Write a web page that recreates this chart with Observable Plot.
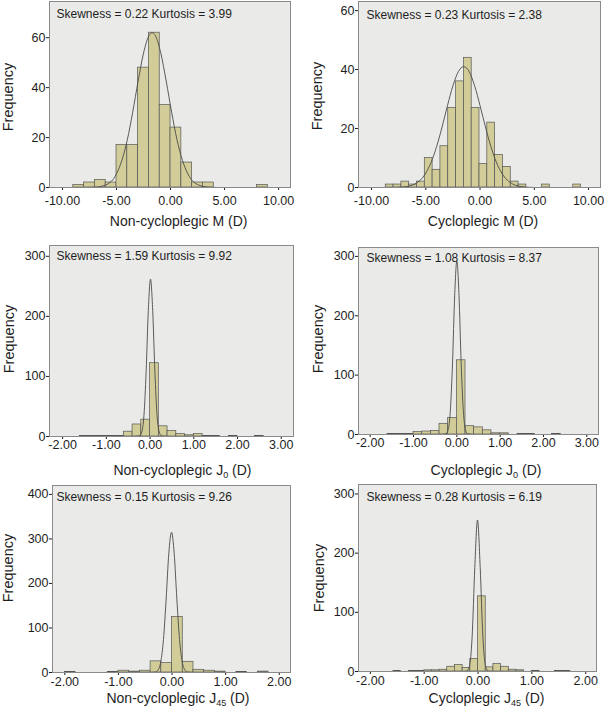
<!DOCTYPE html>
<html>
<head>
<meta charset="utf-8">
<script src="https://cdn.jsdelivr.net/npm/d3@7"></script>
<script src="https://cdn.jsdelivr.net/npm/@observablehq/plot@0.6"></script>
<style>
  html, body { margin:0; padding:0; background:#fff; }
  #chart { position:relative; width:606px; height:714px; overflow:hidden; font-family:"Liberation Sans", Arial, Helvetica, sans-serif; color:#1e1e1e; }
  .panel { position:absolute; }
  .panel svg { display:block; overflow:visible; }
  .xlab { position:absolute; width:240px; text-align:center; font-size:14px; line-height:16px; white-space:nowrap; }
  .xlab sub { font-size:9px; vertical-align:-3px; line-height:0; }
  .ylab { position:absolute; width:120px; text-align:center; font-size:14.5px; line-height:16px; transform:rotate(-90deg); white-space:nowrap; }
</style>
</head>
<body>
<div id="chart"></div>
<script>
// ---------- data ----------
// Non-cycloplegic M (bin width 1.00)
const nonM_start = [-9, -8, -7, -6, -5, -4, -3, -2, -1, 0, 1, 2, 3, 8];
const nonM_count = [1, 2, 3, 2, 17, 17, 48, 62, 33, 24, 10, 2, 2, 1];
const nonM_curveX = [-8, -7, -6, -5, -4.5, -4, -3.5, -3, -2.5, -2, -1.7, -1.4, -0.9, -0.4, 0.1, 0.6, 1.1, 1.6, 2.6, 3.6, 4.6];
const nonM_curveY = [0, 0.1, 1.0, 5.5, 10.9, 19.1, 30.2, 42.6, 53.8, 60.8, 62, 60.8, 53.8, 42.6, 30.2, 19.1, 10.9, 5.5, 1.0, 0.1, 0];

// Cycloplegic M (bin width 0.72)
const cycM_start = [-8.69, -7.97, -7.25, -6.53, -5.81, -5.09, -4.37, -3.65, -2.93, -2.21, -1.49, -0.77, -0.05, 0.67, 1.39, 2.11, 2.83, 3.55, 5.71, 8.59];
const cycM_count = [1, 1, 2, 1, 2, 10, 6, 14, 27, 36, 44, 27, 8, 22, 11, 7, 2, 1, 1, 1];
const cycM_curveX = [-8, -7, -6, -5, -4.5, -4, -3.5, -3, -2.5, -2, -1.5, -1, -0.5, 0, 0.5, 1, 1.5, 2, 3, 4, 5];
const cycM_curveY = [0, 0.2, 1.2, 4.9, 8.6, 13.9, 20.5, 27.8, 34.5, 39.3, 41, 39.3, 34.5, 27.8, 20.5, 13.9, 8.6, 4.9, 1.2, 0.2, 0];

// Non-cycloplegic J0 (bin width 0.20)
const nonJ0_start = [-1.6, -1.4, -1.2, -1.0, -0.8, -0.6, -0.4, -0.2, 0, 0.2, 0.4, 0.6, 0.8, 1.0, 1.2, 1.4, 1.8, 2.4];
const nonJ0_count = [1, 1, 1, 1, 1, 8, 20, 28, 122, 17, 9, 4, 2, 4, 1, 1, 1, 1];
const nonJ0_curveX = [-0.4, -0.25, -0.19, -0.14, -0.09, -0.04, 0.01, 0.06, 0.11, 0.16, 0.21, 0.26, 0.4];
const nonJ0_curveY = [0, 1, 7.5, 35, 108, 210, 262, 210, 108, 35, 7.5, 1, 0];

// Cycloplegic J0 (bin width 0.20)
const cycJ0_start = [-1.6, -1.4, -1.2, -1.0, -0.8, -0.6, -0.4, -0.2, 0, 0.2, 0.4, 0.6, 0.8, 1.0, 1.4, 1.6, 2.2];
const cycJ0_count = [1, 1, 1, 4, 5, 6, 18, 28, 125, 14, 12, 7, 2, 2, 1, 1, 1];
const cycJ0_curveX = [-0.4, -0.25, -0.2, -0.15, -0.1, -0.05, 0, 0.05, 0.1, 0.15, 0.2, 0.25, 0.4];
const cycJ0_curveY = [0, 1, 8, 40, 120, 234, 292, 234, 120, 40, 8, 1, 0];

// Non-cycloplegic J45 (bin width 0.20)
const nonJ45_start = [-2.0, -1.2, -1.0, -0.8, -0.6, -0.4, -0.2, 0, 0.2, 0.4, 0.6, 0.8, 1.2, 1.6];
const nonJ45_count = [1, 1, 4, 2, 4, 25, 21, 125, 24, 6, 4, 2, 1, 2];
const nonJ45_curveX = [-0.41, -0.31, -0.26, -0.21, -0.16, -0.11, -0.06, -0.01, 0.04, 0.09, 0.14, 0.19, 0.24, 0.29, 0.39];
const nonJ45_curveY = [0, 0.9, 5.6, 24, 74, 165, 268, 315, 268, 165, 74, 24, 5.6, 0.9, 0];

// Cycloplegic J45 (bin width 1/7)
const cycJ45_start = [-1.571, -1.286, -1.143, -1.0, -0.857, -0.714, -0.571, -0.429, -0.286, -0.143, 0, 0.143, 0.286, 0.429, 0.571, 0.714, 1.0, 1.429, 1.571];
const cycJ45_count = [1, 1, 1, 2, 2, 3, 8, 11, 6, 21, 127, 7, 13, 8, 3, 2, 1, 1, 1];
const cycJ45_curveX = [-0.26, -0.21, -0.16, -0.11, -0.06, -0.01, 0.04, 0.09, 0.14, 0.19, 0.24];
const cycJ45_curveY = [0, 0.7, 9, 58, 176, 256, 176, 58, 9, 0.7, 0];

const binWidths = [1.0, 0.72, 0.2, 0.2, 0.2, 1 / 7];

const statLabels = [
  "Skewness = 0.22 Kurtosis = 3.99",
  "Skewness = 0.23 Kurtosis = 2.38",
  "Skewness = 1.59 Kurtosis = 9.92",
  "Skewness = 1.08 Kurtosis = 8.37",
  "Skewness = 0.15 Kurtosis = 9.26",
  "Skewness = 0.28 Kurtosis = 6.19"
];
const xTitlePre = ["Non-cycloplegic M", "Cycloplegic M", "Non-cycloplegic J", "Cycloplegic J", "Non-cycloplegic J", "Cycloplegic J"];
const xTitleSub = ["", "", "0", "0", "45", "45"];
const xTitlePost = " (D)";
const yTitle = "Frequency";

const xTicksM = [-10, -5, 0, 5, 10];
const xTicksJ0 = [-2, -1, 0, 1, 2, 3];
const xTicksJ45 = [-2, -1, 0, 1, 2];
const yTicksM = [0, 20, 40, 60];
const yTicks300 = [0, 100, 200, 300];
const yTicks400 = [0, 100, 200, 300, 400];

// ---------- layout ----------
const panels = [
  {start: nonM_start, count: nonM_count, cx: nonM_curveX, cy: nonM_curveY, xd: [-11.2, 11.1], yd: [0, 74.5], xt: xTicksM, yt: yTicksM,
   left: 0, top: 0, w: 303, h: 214, ml: 49, mr: 13, mt: 1, mb: 27, sdx: 7, sdy: 8, tp: 6,
   xl: {cx: 178.7, base: 225.7}, yl: {cx: 9, cy: 97}},
  {start: cycM_start, count: cycM_count, cx: cycM_curveX, cy: cycM_curveY, xd: [-11.2, 11.1], yd: [0, 63.1], xt: xTicksM, yt: yTicksM,
   left: 303, top: 0, w: 303, h: 214, ml: 55, mr: 6, mt: 1, mb: 27, sdx: 8, sdy: 9, tp: 6,
   xl: {cx: 483, base: 225.7}, yl: {cx: 318.7, cy: 96}},
  {start: nonJ0_start, count: nonJ0_count, cx: nonJ0_curveX, cy: nonJ0_curveY, xd: [-2.3, 3.28], yd: [0, 318], xt: xTicksJ0, yt: yTicks300,
   left: 0, top: 230, w: 303, h: 230, ml: 49, mr: 10, mt: 15, mb: 24, sdx: 7, sdy: 6, tp: 0.5,
   xl: {cx: 182.5, base: 475}, yl: {cx: 10, cy: 339}},
  {start: cycJ0_start, count: cycJ0_count, cx: cycJ0_curveX, cy: cycJ0_curveY, xd: [-2.27, 3.27], yd: [0, 315], xt: xTicksJ0, yt: yTicks300,
   left: 303, top: 230, w: 303, h: 230, ml: 55, mr: 8, mt: 17, mb: 26, sdx: 8, sdy: 6, tp: 1,
   xl: {cx: 486, base: 475}, yl: {cx: 319, cy: 339}},
  {start: nonJ45_start, count: nonJ45_count, cx: nonJ45_curveX, cy: nonJ45_curveY, xd: [-2.23, 2.21], yd: [0, 420], xt: xTicksJ45, yt: yTicks400,
   left: 0, top: 460, w: 303, h: 254, ml: 52, mr: 13, mt: 25, mb: 42, sdx: 4, sdy: 7, tp: 2,
   xl: {cx: 178, base: 702.5}, yl: {cx: 9, cy: 568}},
  {start: cycJ45_start, count: cycJ45_count, cx: cycJ45_curveX, cy: cycJ45_curveY, xd: [-2.22, 2.2], yd: [0, 316], xt: xTicksJ45, yt: yTicks300,
   left: 303, top: 460, w: 303, h: 254, ml: 55, mr: 10, mt: 24, mb: 43, sdx: 8, sdy: 8, tp: 2,
   xl: {cx: 486.5, base: 702.5}, yl: {cx: 320, cy: 578}}
];

const chart = document.getElementById("chart");

panels.forEach((p, i) => {
  const bw = binWidths[i];
  const bars = p.start.map((s, j) => ({x1: s, x2: s + bw, n: p.count[j]}));
  const curve = p.cx.map((x, j) => ({x, y: p.cy[j]}));
  const svg = Plot.plot({
    width: p.w, height: p.h,
    marginLeft: p.ml, marginRight: p.mr, marginTop: p.mt, marginBottom: p.mb,
    style: {fontFamily: "'Liberation Sans', Arial, Helvetica, sans-serif", fontSize: "12.5px", color: "#1e1e1e", background: "transparent", overflow: "visible"},
    x: {domain: p.xd, ticks: p.xt, tickFormat: d => d.toFixed(2), tickSize: 3, tickPadding: p.tp, label: null},
    y: {domain: p.yd, ticks: p.yt, tickFormat: d => String(d), tickSize: 3, tickPadding: 1, label: null},
    marks: [
      Plot.frame({fill: "#eaebe9", stroke: null}),
      Plot.rect(bars, {x1: "x1", x2: "x2", y1: 0, y2: "n", fill: "#d2cd98", stroke: "#555", strokeWidth: 0.7}),
      Plot.line(curve, {x: "x", y: "y", stroke: "#4a4a4a", strokeWidth: 0.9, curve: "monotone-x"}),
      Plot.frame({stroke: "#8a8a8a", strokeWidth: 1}),
      Plot.text([statLabels[i]], {text: d => d, frameAnchor: "top-left", textAnchor: "start", lineAnchor: "top", dx: p.sdx, dy: p.sdy, fontSize: 12, fill: "#1e1e1e"})
    ]
  });
  const holder = document.createElement("div");
  holder.className = "panel";
  holder.style.left = p.left + "px";
  holder.style.top = p.top + "px";
  holder.appendChild(svg);
  chart.appendChild(holder);

  // x-axis title (HTML, so the subscript can be real text)
  const xl = document.createElement("div");
  xl.className = "xlab";
  xl.style.left = (p.xl.cx - 120) + "px";
  xl.style.top = (p.xl.base - 12.9) + "px";
  xl.append(xTitlePre[i]);
  if (xTitleSub[i]) {
    const s = document.createElement("sub");
    s.textContent = xTitleSub[i];
    xl.appendChild(s);
  }
  xl.append(xTitlePost);
  chart.appendChild(xl);

  // y-axis title
  const yl = document.createElement("div");
  yl.className = "ylab";
  yl.textContent = yTitle;
  yl.style.left = (p.yl.cx - 1.4 - 60) + "px";
  yl.style.top = (p.yl.cy - 8) + "px";
  chart.appendChild(yl);
});
</script>
</body>
</html>
